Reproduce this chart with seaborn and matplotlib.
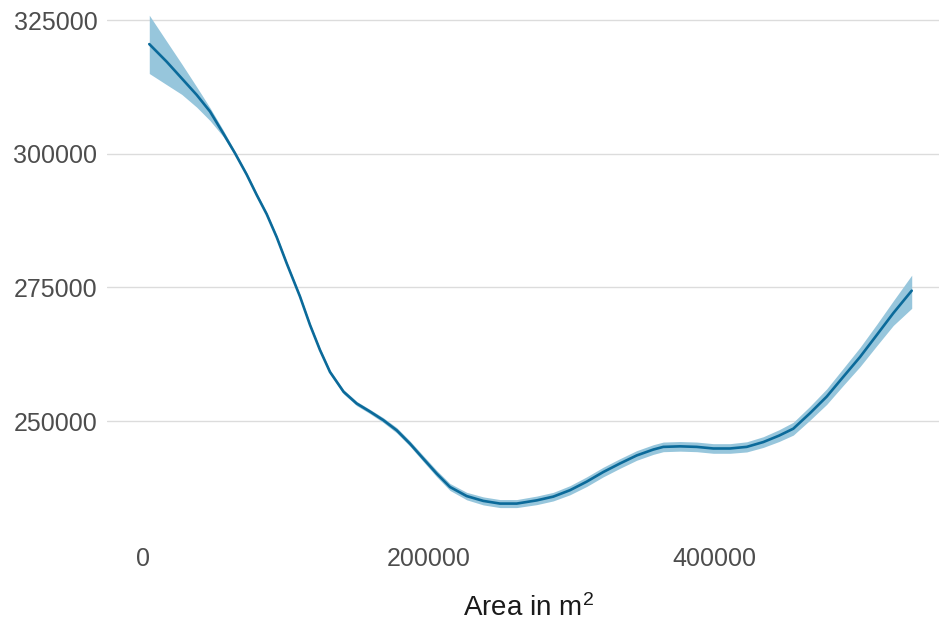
import numpy as np
import pandas as pd
import matplotlib
matplotlib.use("Agg")
import matplotlib.pyplot as plt
import seaborn as sns

# Smoothed price vs. area, with its confidence band
area = [4200, 16400, 26900, 37400, 46700, 56000, 64200, 72400, 79400, 86400,
        93400, 100400, 109700, 116700, 123700, 130700, 140200, 149400, 158700,
        168000, 177400, 186700, 196000, 205400, 214700, 226400, 238000, 249700,
        261400, 275400, 287000, 298700, 310400, 322000, 333700, 345400, 357000,
        364000, 375700, 387400, 399000, 410700, 422400, 434000, 445000, 455000,
        466700, 478400, 490000, 501700, 513400, 525000, 537900]
price = [320500, 317200, 314100, 311000, 307900, 303800, 300100, 296100, 292300, 288700,
         284400, 279500, 273300, 268000, 263300, 259200, 255500, 253300, 251800,
         250200, 248300, 245800, 243000, 240200, 237700, 236000, 235100, 234600,
         234600, 235200, 235900, 237100, 238700, 240500, 242100, 243600, 244700,
         245200, 245300, 245200, 244900, 244900, 245200, 246100, 247300, 248600,
         251500, 254600, 258300, 262000, 266100, 270200, 274400]
lower = [315000, 312900, 311100, 308700, 306200, 303200, 299750, 295750, 291950, 288350,
         284050, 279150, 272950, 267650, 262950, 258850, 255100, 252900, 251400,
         249750, 247800, 245300, 242450, 239600, 237050, 235300, 234350, 233850,
         233850, 234400, 235100, 236250, 237800, 239600, 241200, 242700, 243800,
         244300, 244400, 244300, 244000, 244000, 244250, 245100, 246200, 247400,
         250200, 253150, 256700, 260200, 264100, 267900, 271100]
upper = [325900, 321000, 316800, 312500, 308600, 304400, 300450, 296450, 292650, 289050,
         284750, 279850, 273650, 268350, 263650, 259550, 255900, 253700, 252200,
         250650, 248800, 246300, 243550, 240800, 238350, 236700, 235850, 235350,
         235350, 236000, 236700, 237950, 239600, 241400, 243000, 244500, 245600,
         246100, 246200, 246100, 245800, 245800, 246150, 247100, 248400, 249800,
         252800, 256050, 259900, 263800, 268100, 272500, 277300]

x_ticks = [0, 200000, 400000]
y_ticks = [250000, 275000, 300000, 325000]

df = pd.DataFrame({"area": area, "price": price, "lower": lower, "upper": upper})

sns.set_theme(style="white")
plt.rcParams["font.family"] = ["Liberation Sans", "DejaVu Sans"]
plt.rcParams["mathtext.fontset"] = "custom"
plt.rcParams["mathtext.rm"] = "Liberation Sans"
plt.rcParams["mathtext.it"] = "Liberation Sans:italic"

fig = plt.figure(figsize=(9.39, 6.24), dpi=100)
# panel spans slightly past the right/top edges (reference is cropped)
ax = fig.add_axes([107 / 939, 1 - 533 / 624, (950 - 107) / 939, (533 + 9.4) / 624])

ax.fill_between(df["area"], df["lower"], df["upper"], color="#97c6dc", lw=0, zorder=2)
sns.lineplot(data=df, x="area", y="price", ax=ax, color="#0b6a9a", lw=1.9, zorder=3)

ax.set_xlim(-25400, 564700)
ax.set_ylim(229100, 330500)
ax.set_xticks(x_ticks)
ax.set_xticklabels([str(v) for v in x_ticks])
ax.set_yticks(y_ticks)
ax.set_yticklabels([str(v) for v in y_ticks])

ax.grid(axis="y", color="#dcdcdc", lw=1.0, zorder=0)
ax.grid(axis="x", visible=False)
for s in ax.spines.values():
    s.set_visible(False)

ax.tick_params(axis="both", length=0, labelsize=18, labelcolor="#4d4d4d")
ax.tick_params(axis="y", pad=7)
ax.tick_params(axis="x", pad=10)
ax.set_ylabel("")
ax.set_xlabel(r"Area in m$^{\mathregular{2}}$", fontsize=20, color="#1a1a1a", labelpad=17)

fig.savefig("out.png", dpi=100)
